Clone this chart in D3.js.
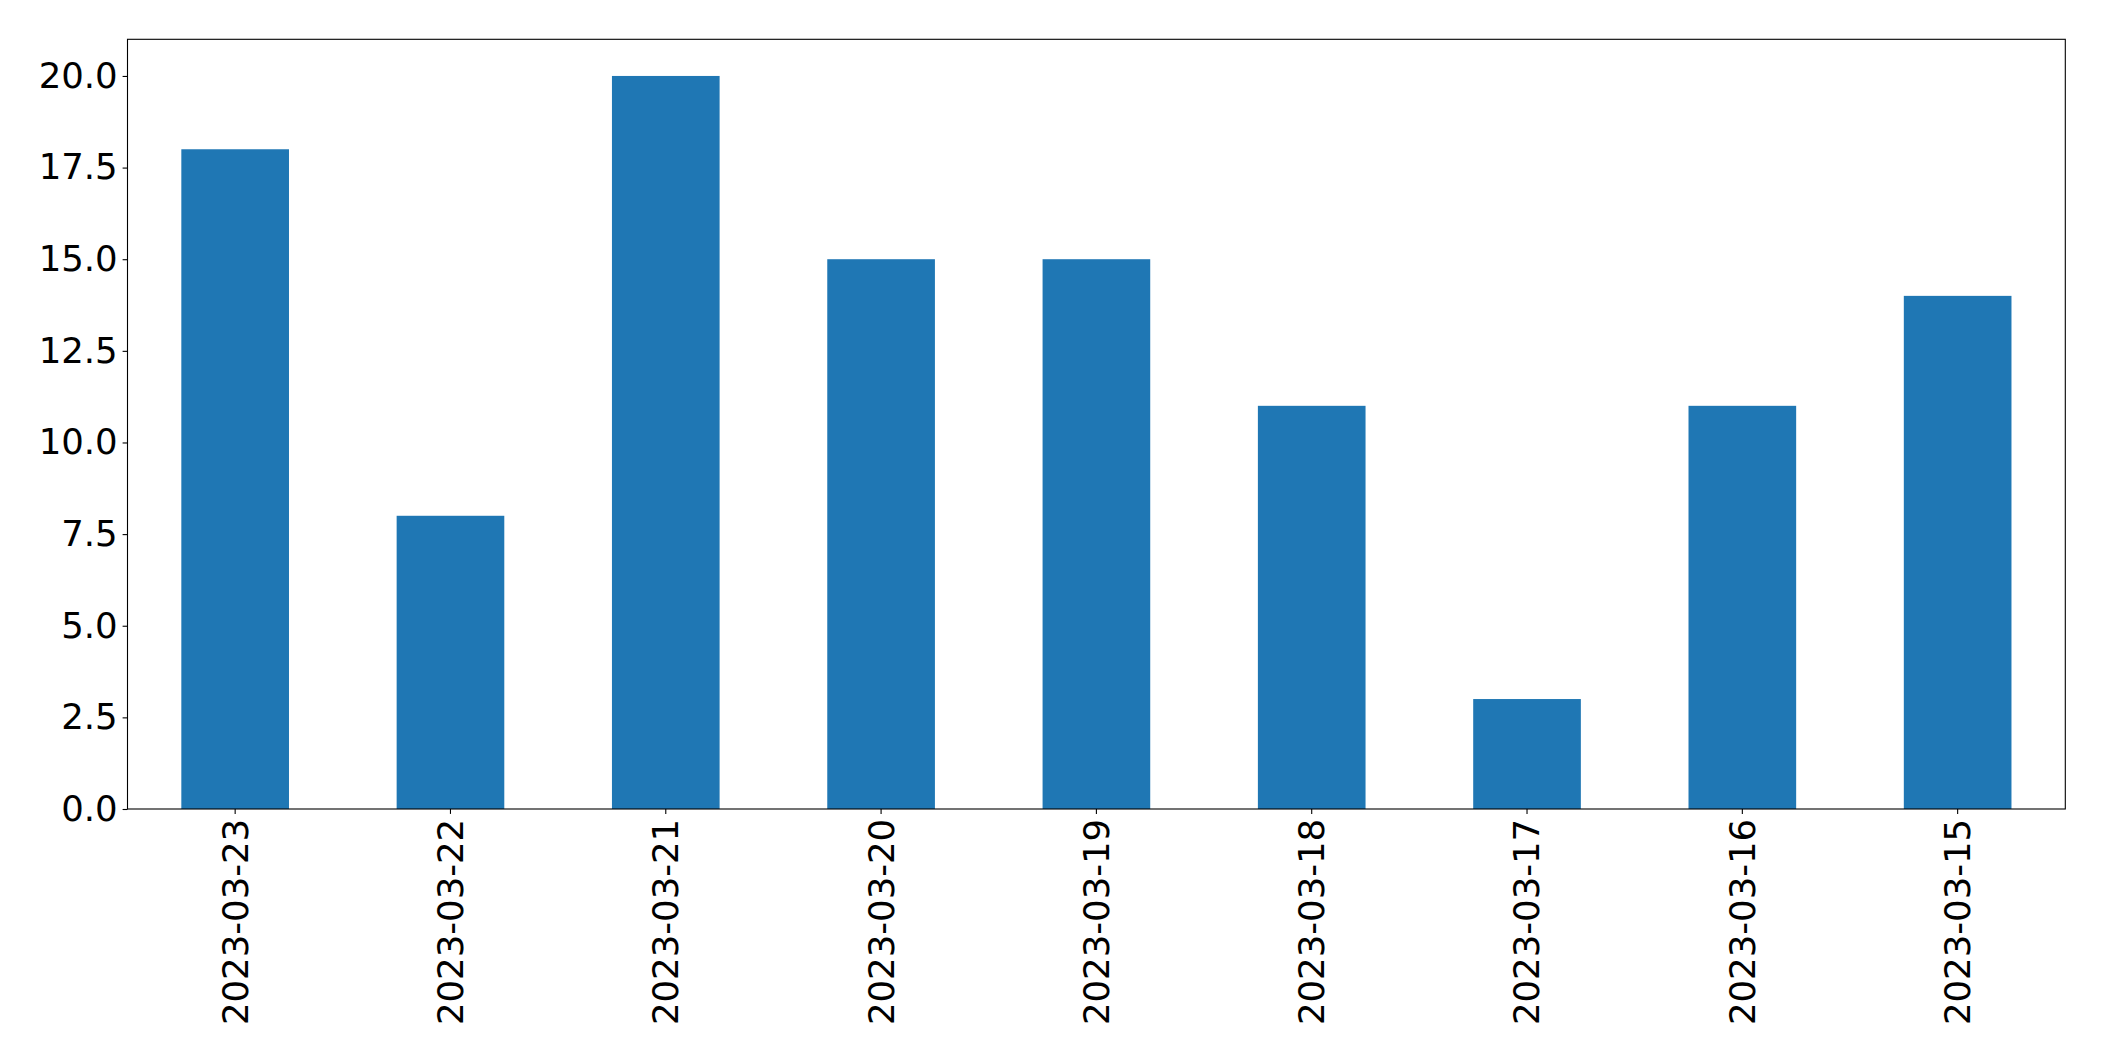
<!DOCTYPE html>
<html>
<head>
<meta charset="utf-8">
<script src="https://cdn.jsdelivr.net/npm/d3@7"></script>
<style>
  html, body { margin: 0; padding: 0; background: #fff; }
  svg { display: block; }
  text { font-family: "DejaVu Sans", sans-serif; }
</style>
</head>
<body>
<svg id="chart" width="2104" height="1061"></svg>
<script>
const categories = ["2023-03-23","2023-03-22","2023-03-21","2023-03-20","2023-03-19","2023-03-18","2023-03-17","2023-03-16","2023-03-15"];
const values = [18, 8, 20, 15, 15, 11, 3, 11, 14];
const yTicks = [0, 2.5, 5, 7.5, 10, 12.5, 15, 17.5, 20];

const margin = { left: 127.5, right: 2104 - 2065.3, top: 39.3, bottom: 1061 - 809 };
const W = 2104, H = 1061;
const svg = d3.select("#chart");
const x0 = margin.left, x1 = W - margin.right, y0 = H - margin.bottom, y1 = margin.top;

const x = d3.scaleBand().domain(categories).range([x0, x1]).paddingInner(0.5).paddingOuter(0.25);
const y = d3.scaleLinear().domain([0, 21]).range([y0, y1]);

svg.append("g").selectAll("rect").data(categories).join("rect")
  .attr("x", d => x(d))
  .attr("width", x.bandwidth())
  .attr("y", (d, i) => y(values[i]))
  .attr("height", (d, i) => y(0) - y(values[i]))
  .attr("fill", "#1f77b4");

const fs = 35.5;
const yAxis = svg.append("g").attr("transform", `translate(${x0},0)`)
  .call(d3.axisLeft(y).tickValues(yTicks).tickFormat(d3.format(".1f")).tickSize(4.9).tickPadding(4.9));
yAxis.select(".domain").remove();
yAxis.selectAll("line").attr("stroke", "#000").attr("stroke-width", 1.1);
yAxis.selectAll("text").attr("font-size", fs).attr("fill", "#000").attr("font-family", "DejaVu Sans");

const xAxis = svg.append("g").attr("transform", `translate(0,${y0})`)
  .call(d3.axisBottom(x).tickSize(4.9).tickPadding(4.9));
xAxis.select(".domain").remove();
xAxis.selectAll("line").attr("stroke", "#000").attr("stroke-width", 1.1);
xAxis.selectAll("text")
  .attr("font-size", fs).attr("fill", "#000").attr("font-family", "DejaVu Sans")
  .attr("text-anchor", "end")
  .attr("transform", "rotate(-90)")
  .attr("x", -9.8).attr("y", 0).attr("dy", "0.35em");

svg.append("rect")
  .attr("x", x0).attr("y", y1).attr("width", x1 - x0).attr("height", y0 - y1)
  .attr("fill", "none").attr("stroke", "#000").attr("stroke-width", 1.1);
</script>
</body>
</html>
